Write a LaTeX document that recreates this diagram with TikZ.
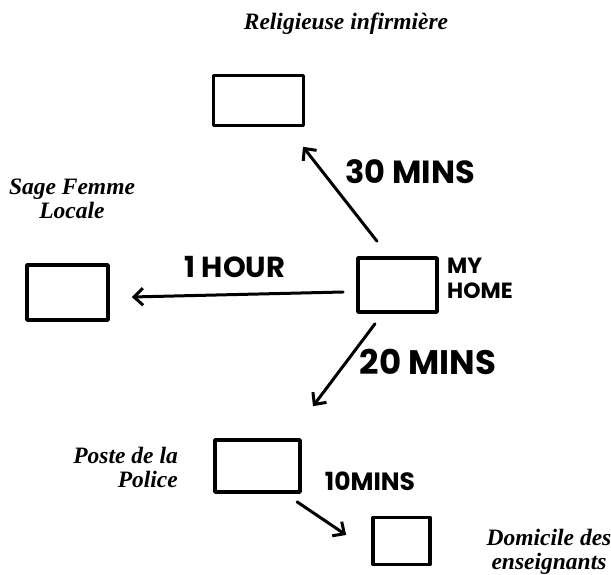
\documentclass[tikz,border=0pt]{standalone}
\usepackage{fontspec}
\setmainfont{Liberation Serif}
\newfontfamily\handfont{Poppins}
\usetikzlibrary{arrows.meta}
\begin{document}
\begin{tikzpicture}[x=1pt,y=-1pt,
  box/.style={draw,line width=3.6pt,inner sep=0pt,line join=round},
  arr/.style={line width=3pt,line cap=round,-{Straight Barb[length=9pt,width=17pt,line width=3pt]}},
  hand/.style={inner sep=0pt},
  lab/.style={font=\bfseries\itshape\fontsize{23.5}{24}\selectfont,inner sep=0pt,align=center}]
\useasboundingbox (0,0) rectangle (611,575);
% boxes
\node[box,minimum width=90pt,minimum height=50pt] (top) at (258.5,100.5) {};
\node[box,minimum width=81pt,minimum height=55pt] (left) at (67.5,292.5) {};
\node[box,minimum width=79pt,minimum height=54pt] (home) at (397.5,285) {};
\node[box,minimum width=85pt,minimum height=52pt] (police) at (257.5,466) {};
\node[box,minimum width=57pt,minimum height=47pt] (dom) at (401.5,541) {};
% arrows
\draw[arr] ([shift={(-20.5,-15)}]home.north) -- ([shift={(44.5,19.5)}]top.south);
\draw[arr] ([shift={(-13,7)}]home.west) -- ([shift={(22,4.5)}]left.east);
\draw[arr] ([shift={(-22.5,10)}]home.south) -- ([shift={(55.5,-32)}]police.north);
\draw[arr] ([shift={(39.5,8)}]police.south) -- ([shift={(-25,-6)}]dom.west);
% hand labels
\node[hand,font=\handfont\bfseries\fontsize{32}{34}\selectfont] (l30) at (410,172) {30 MINS};
\node[hand,font=\handfont\bfseries\fontsize{29}{31}\selectfont] (l1h) at (235,267) {1 HOUR};
\node[hand,align=left,anchor=west,font=\handfont\bfseries\fontsize{22}{25}\selectfont] (lhome) at (447,278.5) {MY\\HOME};
\node[hand,font=\handfont\bfseries\fontsize{34}{36}\selectfont] (l20) at (428,362) {20 MINS};
\node[hand,font=\handfont\bfseries\fontsize{25}{27}\selectfont] (l10) at (370,481) {10MINS};
% serif labels
\node[lab,anchor=base] (trel) at (346,30) {Religieuse infirmière};
\node[lab] (tsage) at (72,199) {Sage Femme\\Locale};
\node[lab,align=right,anchor=east] (tpol) at (178,467) {Poste de la\\Police};
\node[lab] (tdom) at (549,552) {Domicile des\\enseignants};
\end{tikzpicture}
\end{document}
